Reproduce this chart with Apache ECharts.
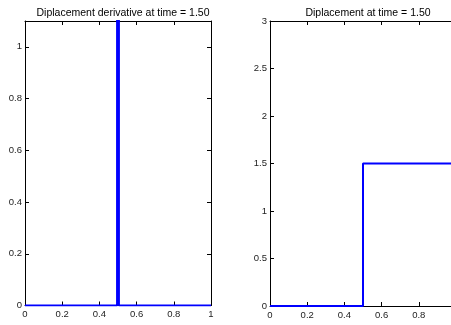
<!DOCTYPE html>
<html>
<head>
<meta charset="utf-8">
<script src="https://cdn.jsdelivr.net/npm/echarts@6/dist/echarts.min.js"></script>
<style>
  html, body { margin: 0; padding: 0; background: #fff; }
  #chart { width: 451px; height: 325px; }
</style>
</head>
<body>
<div id="chart"></div>
<script>
// Displacement derivative: zero everywhere except a sharp spike at x = 0.5
const derivX = [0, 0.495, 0.5, 0.505, 1];
const derivY = [0, 0, 150, 0, 0];

// Displacement: step of height 1.5 at x = 0.5
const dispX = [0, 0.5, 0.5, 1];
const dispY = [0, 0, 1.5, 1.5];

const titles = ['Diplacement derivative at time = 1.50', 'Diplacement at time = 1.50'];

const FONT = '"Liberation Sans", Arial, Helvetica, sans-serif';
const pairs = (xs, ys) => xs.map((x, i) => [x, ys[i]]);

const lineStyle = { color: '#000', width: 1 };
const tickStyle = { show: true, inside: true, length: 4, lineStyle: { color: '#000', width: 1 } };

function xAxes(grid, labels) {
  return [
    {
      type: 'value', gridIndex: grid, position: 'bottom', min: 0, max: 1, interval: 0.2,
      axisLine: { show: true, onZero: false, lineStyle },
      axisTick: tickStyle,
      axisLabel: { show: labels, color: '#222', fontSize: 9.5, fontFamily: FONT, margin: 4 },
      splitLine: { show: false }
    },
    {
      type: 'value', gridIndex: grid, position: 'top', min: 0, max: 1, interval: 0.2,
      axisLine: { show: true, onZero: false, lineStyle },
      axisTick: tickStyle,
      axisLabel: { show: false },
      splitLine: { show: false }
    }
  ];
}

function yAxes(grid, max, interval) {
  const onTick = Math.abs(max / interval - Math.round(max / interval)) < 1e-9;
  return [
    {
      type: 'value', gridIndex: grid, position: 'left', min: 0, max, interval,
      axisLine: { show: true, onZero: false, lineStyle },
      axisTick: tickStyle,
      axisLabel: { color: '#222', fontSize: 9.5, fontFamily: FONT, margin: 3, showMaxLabel: onTick },
      splitLine: { show: false }
    },
    {
      type: 'value', gridIndex: grid, position: 'right', min: 0, max, interval,
      axisLine: { show: true, onZero: false, lineStyle },
      axisTick: tickStyle,
      axisLabel: { show: false },
      splitLine: { show: false }
    }
  ];
}

const chart = echarts.init(document.getElementById('chart'), null, { renderer: 'canvas' });

chart.setOption({
  animation: false,
  backgroundColor: '#fff',
  title: [
    { text: titles[0], left: 118, top: 3, textAlign: 'center',
      textStyle: { fontSize: 10.5, fontWeight: 'normal', color: '#000', fontFamily: FONT } },
    { text: titles[1], left: 363, top: 3, textAlign: 'center',
      textStyle: { fontSize: 10.5, fontWeight: 'normal', color: '#000', fontFamily: FONT } }
  ],
  grid: [
    { left: 25, top: 21, width: 186, height: 284.5, containLabel: false, outerBoundsMode: 'none' },
    { left: 270, top: 21, width: 186, height: 285, containLabel: false, outerBoundsMode: 'none' }
  ],
  xAxis: [...xAxes(0, true), ...xAxes(1, true)],
  yAxis: [...yAxes(0, 1.1, 0.2), ...yAxes(1, 3, 0.5)],
  series: [
    {
      type: 'line', xAxisIndex: 0, yAxisIndex: 0, data: pairs(derivX, derivY),
      showSymbol: false, clip: true, lineStyle: { color: '#0000ff', width: 2 }
    },
    {
      type: 'line', xAxisIndex: 2, yAxisIndex: 2, data: pairs(dispX, dispY),
      showSymbol: false, clip: true, lineStyle: { color: '#0000ff', width: 2 }
    }
  ]
});
</script>
</body>
</html>
